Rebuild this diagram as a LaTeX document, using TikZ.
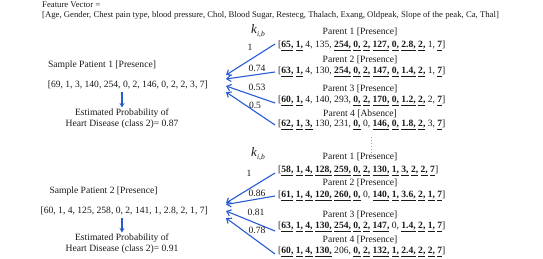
\documentclass[tikz,border=0pt]{standalone}
\usepackage{fontspec}
\setmainfont{Liberation Serif}
\usetikzlibrary{arrows.meta}
\newcommand\bu[1]{\underline{\textbf{#1}\vphantom{,}}}
\newcommand\kib{{\fontsize{13}{13}\selectfont\textit{k}}\raisebox{-3.5pt}{\fontsize{7.5}{7.5}\selectfont\textit{i,b}}}
\definecolor{arrowblue}{RGB}{40,90,210}
\definecolor{dotblue}{RGB}{120,170,240}
\definecolor{ink}{RGB}{25,25,25}
\begin{document}
\begin{tikzpicture}[x=1pt,y=-1pt,
  txt/.style={inner sep=0pt, text=ink, font=\fontsize{9.6}{11}\selectfont},
  small/.style={inner sep=0pt, text=ink, font=\fontsize{8.7}{10}\selectfont},
  lbl/.style={inner sep=0pt, text=ink, align=center, font=\fontsize{9.6}{11}\selectfont},
  link/.style={draw=arrowblue, line width=1.1pt, -{Straight Barb[length=4pt,width=6.5pt]}},
  down/.style={draw=arrowblue, line width=1.1pt, -{Stealth[length=4.5pt,width=5pt]}},
  dots/.style={draw=dotblue, line width=1pt, dotted}]
\useasboundingbox (0,0) rectangle (543,259);

% feature vector
\node[small, anchor=west] (fv1) at (42,5) {Feature Vector =};
\node[small, anchor=west] (fv2) at (42,15) {[Age, Gender, Chest pain type, blood pressure, Chol, Blood Sugar, Restecg, Thalach, Exang, Oldpeak, Slope of the peak, Ca, Thal]};

% ---------- group 1 ----------
\node[inner sep=0pt, anchor=west, text=ink] (k1) at (251,31) {\kib};

\node[txt] (s1) at (102,65) {Sample Patient 1 [Presence]};
\node[txt, anchor=east] (v1) at (208,85) {[69, 1, 3, 140, 254, 0, 2, 146, 0, 2, 2, 3, 7]};
\node[lbl] (e1) at (122,118.5) {Estimated Probability of\\Heart Disease (class 2)= 0.87};
\coordinate (d1a) at (122,92);
\coordinate (d1b) at (122,107.5);
\draw[down] (d1a) -- (d1b);

\node[txt] (p11l) at (360,32) {Parent 1 [Presence]};
\node[txt, anchor=west] (p11) at (278,46) {[\bu{65,} \bu{1,} 4, 135, \bu{254,} \bu{0,} \bu{2,} \bu{127,} \bu{0,} \bu{2.8,} \bu{2,} 1, \bu{7}]};
\node[txt] (p12l) at (360,60) {Parent 2 [Presence]};
\node[txt, anchor=west] (p12) at (278,72) {[\bu{63,} \bu{1,} 4, 130, \bu{254,} \bu{0,} \bu{2,} \bu{147,} \bu{0,} \bu{1.4,} \bu{2,} 1, \bu{7}]};
\node[txt] (p13l) at (360,89) {Parent 3 [Presence]};
\node[txt, anchor=west] (p13) at (278,101) {[\bu{60,} \bu{1,} 4, 140, 293, \bu{0,} \bu{2,} \bu{170,} \bu{0,} \bu{1.2,} \bu{2,} 2, \bu{7}]};
\node[txt] (p14l) at (360,114) {Parent 4 [Absence]};
\node[txt, anchor=west] (p14) at (278,125) {[\bu{62,} \bu{1,} \bu{3,} 130, 231, \bu{0,} 0, \bu{146,} \bu{0,} \bu{1.8,} \bu{2,} 3, \bu{7}]};

\coordinate (t11) at (226,75);
\coordinate (t12) at (226,79);
\coordinate (t13) at (226,86);
\coordinate (t14) at (226,92);
\draw[link] ([xshift=-3pt,yshift=2pt]p11.west) -- (t11);
\draw[link] ([xshift=-3pt]p12.west) -- (t12);
\draw[link] ([xshift=-3pt,yshift=-2pt]p13.west) -- (t13);
\draw[link] ([xshift=-3pt]p14.west) -- (t14);

\node[txt] (w11) at (250,47) {1};
\node[txt] (w12) at (257,68) {0.74};
\node[txt] (w13) at (257,87) {0.53};
\node[txt] (w14) at (255,105) {0.5};

\coordinate (dt1) at (371,137);
\coordinate (dt2) at (371,153);
\draw[dots] (dt1) -- (dt2);

% ---------- group 2 ----------
\node[inner sep=0pt, anchor=west, text=ink] (k2) at (251,154) {\kib};

\node[txt] (s2) at (103.5,191) {Sample Patient 2 [Presence]};
\node[txt, anchor=east] (v2) at (208,211) {[60, 1, 4, 125, 258, 0, 2, 141, 1, 2.8, 2, 1, 7]};
\node[lbl] (e2) at (122,243.5) {Estimated Probability of\\Heart Disease (class 2)= 0.91};
\coordinate (d2a) at (122,218);
\coordinate (d2b) at (122,232.5);
\draw[down] (d2a) -- (d2b);

\node[txt] (p21l) at (360,157) {Parent 1 [Presence]};
\node[txt, anchor=west] (p21) at (278,171) {[\bu{58,} \bu{1,} \bu{4,} \bu{128,} \bu{259,} \bu{0,} \bu{2,} \bu{130,} \bu{1,} \bu{3,} \bu{2,} \bu{2,} \bu{7}]};
\node[txt] (p22l) at (360,183) {Parent 2 [Presence]};
\node[txt, anchor=west] (p22) at (278,196) {[\bu{61,} \bu{1,} \bu{4,} \bu{120,} \bu{260,} \bu{0,} 0, \bu{140,} \bu{1,} \bu{3.6,} \bu{2,} \bu{1,} \bu{7}]};
\node[txt] (p23l) at (360,215) {Parent 3 [Presence]};
\node[txt, anchor=west] (p23) at (278,227) {[\bu{63,} \bu{1,} \bu{4,} \bu{130,} \bu{254,} \bu{0,} \bu{2,} \bu{147,} 0, \bu{1.4,} \bu{2,} \bu{1,} \bu{7}]};
\node[txt] (p24l) at (360,240) {Parent 4 [Presence]};
\node[txt, anchor=west] (p24) at (278,252) {[\bu{60,} \bu{1,} \bu{4,} \bu{130,} 206, \bu{0,} \bu{2,} \bu{132,} \bu{1,} \bu{2.4,} \bu{2,} \bu{2,} \bu{7}]};

\coordinate (t21) at (226,203);
\coordinate (t22) at (226,204.5);
\coordinate (t23) at (226,211);
\coordinate (t24) at (226,218);
\draw[link] ([xshift=-3pt,yshift=-2pt]p21.west) -- (t21);
\draw[link] ([xshift=-3pt]p22.west) -- (t22);
\draw[link] ([xshift=-3pt,yshift=-4pt]p23.west) -- (t23);
\draw[link] ([xshift=-3pt,yshift=-2pt]p24.west) -- (t24);

\node[txt] (w21) at (249,173) {1};
\node[txt] (w22) at (257,193) {0.86};
\node[txt] (w23) at (256,212) {0.81};
\node[txt] (w24) at (257,230) {0.78};
\end{tikzpicture}
\end{document}
